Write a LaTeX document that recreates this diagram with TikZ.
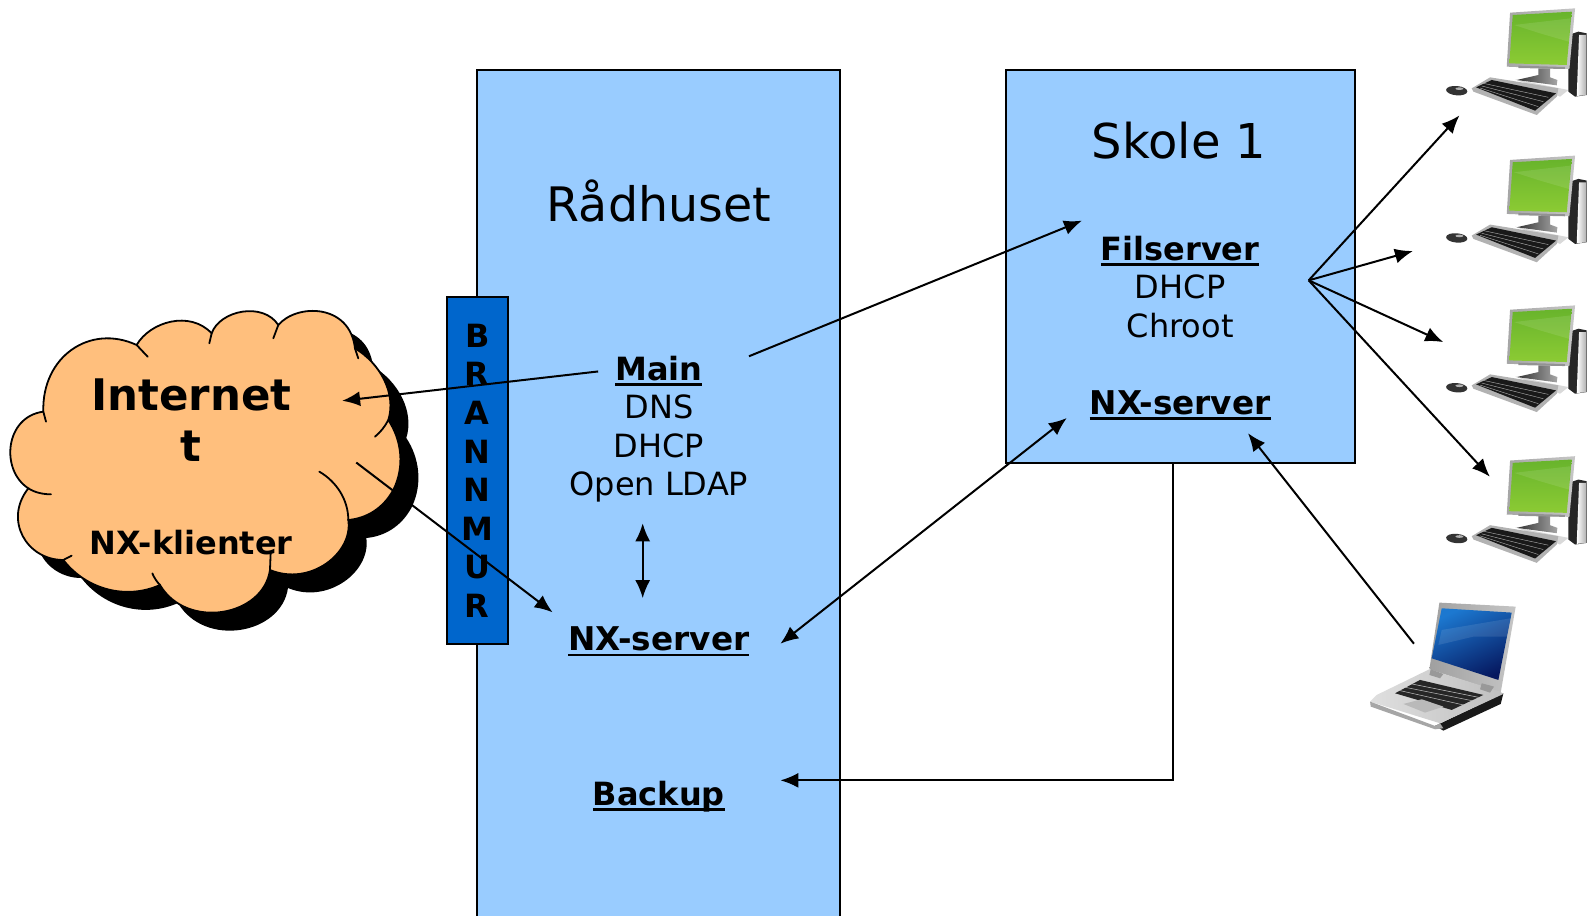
\documentclass[tikz,border=0pt]{standalone}
\usepackage{fontspec}
\setmainfont{DejaVu Sans}
\usetikzlibrary{arrows.meta}
\definecolor{lightb}{HTML}{99CCFF}
\definecolor{darkb}{HTML}{0066CC}
\definecolor{cloudc}{HTML}{FFBF7D}
\definecolor{scrA}{HTML}{68B42C}
\definecolor{scrB}{HTML}{2F8F1E}
\definecolor{scrC}{HTML}{8CCB34}
\definecolor{lapA}{HTML}{1C78D0}
\definecolor{lapB}{HTML}{0A4CA8}
\definecolor{lapC}{HTML}{06185F}
\newcommand{\myul}[1]{\setbox0\hbox{#1}\rlap{\rule[-5.5pt]{\wd0}{2.6pt}}\box0}
\newcommand{\cloudshape}{
  (130,365) .. controls (125,200) and (270,100) .. (410,165)
  .. controls (450,95) and (570,60) .. (635,130)
  .. controls (660,60) and (790,35) .. (835,105)
  .. controls (890,40) and (1050,40) .. (1065,175)
  .. controls (1140,220) and (1190,310) .. (1165,390)
  .. controls (1205,450) and (1215,530) .. (1180,600)
  .. controls (1150,655) and (1100,685) .. (1045,690)
  .. controls (1060,790) and (930,890) .. (810,840)
  .. controls (790,980) and (560,1020) .. (480,885)
  .. controls (380,930) and (260,900) .. (190,810)
  .. controls (80,810) and (10,690) .. (85,595)
  .. controls (0,540) and (15,380) .. (130,365)
  -- cycle}
\tikzset{
  site/.style={draw=black,line width=2pt,fill=lightb},
  txt/.style={font=\fontsize{32}{38.6}\selectfont,align=center,inner sep=0pt},
  btxt/.style={txt,font=\fontsize{32}{38.6}\selectfont\bfseries},
  head/.style={font=\fontsize{47.5}{50}\selectfont,inner sep=0pt},
  conn/.style={line width=2pt,-{Latex[length=18pt,width=15pt]}},
  conn2/.style={line width=2pt,{Latex[length=18pt,width=15pt]}-{Latex[length=18pt,width=15pt]}},
  computer/.pic={
    \begin{scope}[x=.3333pt,y=-.3333pt]
    \fill[gray!30] (505,270)--(345,238)--(480,290)--cycle;
    % tower
    \fill[black!85] (505,105)--(535,95)--(560,100)--(560,285)--(525,290)--(505,275)--cycle;
    \shade[left color=white,right color=gray!65] (537,105)--(560,105)--(560,285)--(530,288)--cycle;
    % monitor stand
    \shade[left color=black!80,right color=gray!70] (415,205)--(450,205)--(450,232)--(472,240)--(470,256)--(350,240)--(415,225)--cycle;
    % monitor
    \shade[left color=gray!70,right color=gray!45] (330,38)--(525,25)--(508,207)--(320,200)--cycle;
    \shade[top color=scrA,middle color=scrB,bottom color=scrC]
      (338,45)--(515,35)--(500,195)--(328,190)--cycle;
    \fill[white,opacity=.10] (342,75)--(512,55)--(506,125)--(420,100)--cycle;
    \fill[gray!85] (355,197)--(495,201)--(494,207)--(355,204)--cycle;
    % keyboard
    \fill[gray!60] (215,265)--(270,232)--(475,265)--(470,290)--(410,345)--(220,275)--cycle;
    \fill[black!90] (228,262)--(275,240)--(468,280)--(405,332)--cycle;
    \draw[gray!60,line width=.4pt] (250,250)--(445,292) (245,258)--(430,305) (240,264)--(415,320);
    % mouse
    \fill[black!80,rotate around={-5:(170,272)}] (170,272) ellipse (32 and 14);
    \fill[gray!60] (178,266) ellipse (12 and 4);
    \end{scope}
  },
  laptoppic/.pic={
    \begin{scope}[x=.3333pt,y=-.3333pt]
    \shade[left color=gray!75,right color=gray!45] (298,68)--(527,80)--(482,338)--(268,268)--cycle;
    \shade[top color=lapA,middle color=lapB,bottom color=lapC,shading angle=25]
      (305,85)--(515,98)--(475,300)--(275,235)--cycle;
    \fill[white,opacity=.10] (305,150)--(512,115)--(500,170)--(400,170)--(295,195)--cycle;
    \fill[black!90] (490,340)--(482,372)--(310,452)--(285,438)--cycle;
    \shade[left color=gray!25,right color=gray!50] (268,268)--(480,335)--(490,342)--(300,430)--(90,365)--(110,345)--cycle;
    \fill[gray!70] (90,365)--(285,438)--(300,430)--(310,445)--(285,448)--(92,380)--cycle;
    \fill[black!85] (165,340)--(240,300)--(430,345)--(335,390)--cycle;
    \draw[gray!50,line width=.5pt] (195,322)--(395,362) (180,332)--(370,375) (215,312)--(415,352);
    \fill[gray!55] (190,372)--(245,358)--(310,380)--(255,398)--cycle;
    \fill[gray!80] (272,268)--(310,282)--(300,295)--(268,285)--cycle;
    \fill[gray!80] (425,310)--(462,320)--(450,338)--(420,328)--cycle;
    \end{scope}
  }
}
\begin{document}
\begin{tikzpicture}[x=1.0121pt,y=-1.0121pt]
\useasboundingbox (0,0) rectangle (1568,905);
% boxes
\node[site,minimum width=359*1.0121pt,minimum height=860*1.0121pt,anchor=north west,inner sep=0pt] (raad) at (470.4,68.2) {};
\node[site,minimum width=344*1.0121pt,minimum height=388.5*1.0121pt,anchor=north west,inner sep=0pt] (skole) at (993.3,68.2) {};
\node[draw=black,line width=2pt,fill=darkb,minimum width=60*1.0121pt,minimum height=343.5*1.0121pt,anchor=north west,inner sep=0pt] (fw) at (441,292.2) {};
% cloud
\begin{scope}[x=.3333pt,y=-.3333pt,shift={(0pt,-290pt)}]
\fill[black,shift={(18pt,-18pt)}] \cloudshape;
\draw[line width=1.8pt,fill=cloudc] \cloudshape;
\draw[line width=1.8pt,line cap=round]
  (410,165) -- (443,200)
  (635,130) -- (628,160)
  (835,105) -- (820,145)
  (1065,175) -- (1075,205)
  (1165,390) .. controls (1155,410) and (1140,428) .. (1125,440)
  (1045,690) .. controls (1045,630) and (1010,575) .. (958,545)
  (810,840) -- (812,790)
  (480,885) .. controls (470,875) and (462,862) .. (457,850)
  (190,810) -- (215,797)
  (85,595) .. controls (105,608) and (130,613) .. (153,613)
  (130,365) -- (138,395);
\end{scope}
% texts
\node[font=\fontsize{43.5}{51}\selectfont\bfseries,align=center,inner sep=0pt] (inet) at (189,415) {Internet\\t};
\node[btxt] (klient) at (189,536) {NX-klienter};
\node[btxt] (fwt) at (471.5,465) {B\\R\\A\\N\\N\\M\\U\\R};
\node[head] (raadt) at (651,199) {Rådhuset};
\node[head,font=\fontsize{48}{50}\selectfont] (skolet) at (1165,139) {Skole 1};
\node[txt] (main) at (651,424) {\textbf{\myul{Main}}\\DNS\\DHCP\\Open LDAP};
\node[btxt,font=\fontsize{32.7}{38.6}\selectfont\bfseries] (nx1) at (651,634) {\myul{NX-server}};
\node[btxt] (backup) at (651,787) {\myul{Backup}};
\node[txt] (fil) at (1166,283.5) {\textbf{\myul{Filserver}}\\DHCP\\Chroot};
\node[btxt,font=\fontsize{32.7}{38.6}\selectfont\bfseries] (nx2) at (1166,400) {\myul{NX-server}};
% computers
\pic (pc1) at (1383.3,0) {computer};
\pic (pc2) at (1383.3,145.5) {computer};
\pic (pc3) at (1383.3,293.5) {computer};
\pic (pc4) at (1383.3,442.5) {computer};
\pic (lap) at (1324,573) {laptoppic};
% connector ends
\coordinate (a1) at (591,367); \coordinate (a2) at (338,396);
\coordinate (b1) at (740,352); \coordinate (b2) at (1069,218);
\coordinate (c1) at (352,457); \coordinate (c2) at (546,605);
\coordinate (d1) at (635,517); \coordinate (d2) at (635,591);
\coordinate (e1) at (771,636); \coordinate (e2) at (1054,413);
\coordinate (f1) at (1159,457); \coordinate (f2) at (771,771);
\coordinate (g1) at (1397,636); \coordinate (g2) at (1233,428);
\coordinate (h) at (1293,277);
\coordinate (h1) at (1442,114); \coordinate (h2) at (1396,248);
\coordinate (h3) at (1426,338); \coordinate (h4) at (1472,471);
\draw[conn] (a1) -- (a2);
\draw[conn] (b1) -- (b2);
\draw[conn] (c1) -- (c2);
\draw[conn2] (d1) -- (d2);
\draw[conn2] (e1) -- (e2);
\draw[conn] (f1) |- (f2);
\draw[conn] (g1) -- (g2);
\draw[conn] (h) -- (h1);
\draw[conn] (h) -- (h2);
\draw[conn] (h) -- (h3);
\draw[conn] (h) -- (h4);
\end{tikzpicture}
\end{document}
